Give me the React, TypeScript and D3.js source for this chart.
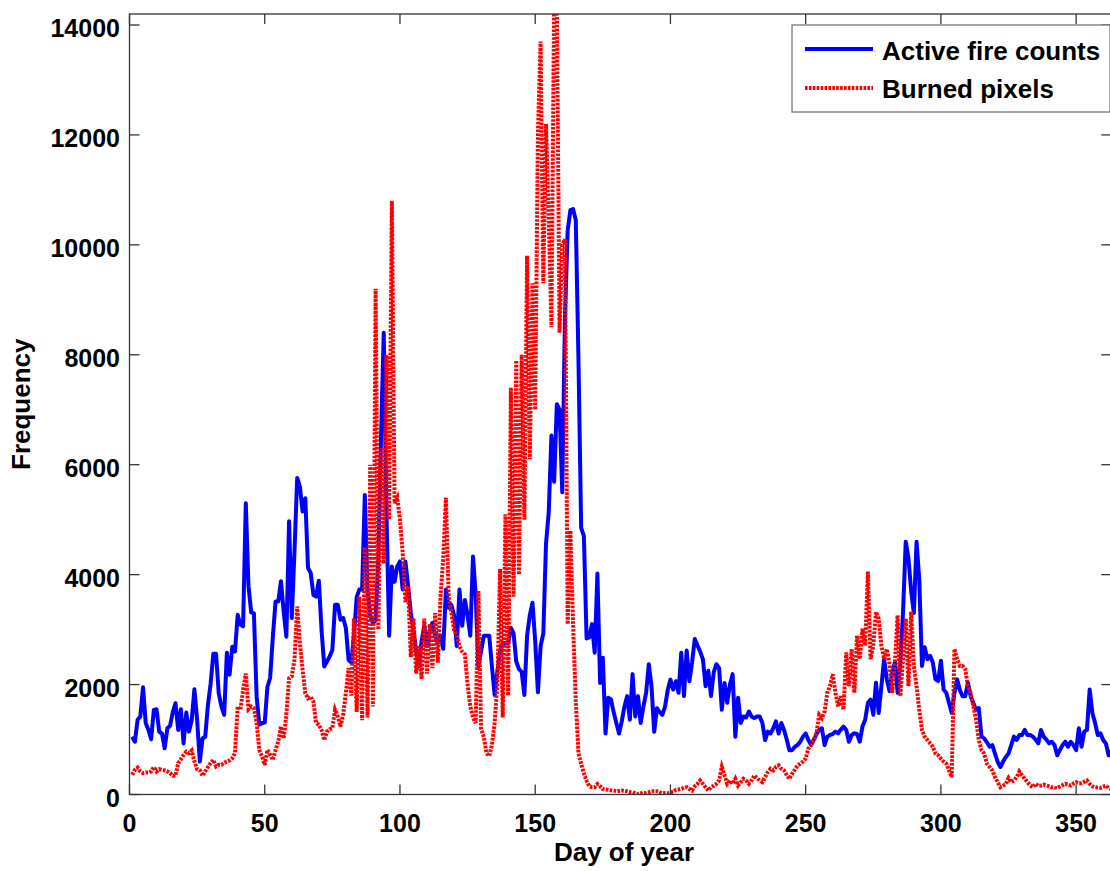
import React from 'react'
import * as d3 from 'd3'

// daily values, day 1 .. 363
const activeFire = [
    1050, 960, 1360, 1420, 1950, 1300, 1175, 1005, 1540, 1550,
    1140, 1110, 840, 1205, 1250, 1500, 1660, 1175, 1550, 930,
    1490, 1144, 1356, 1915, 1356, 600, 1020, 1050, 1630, 2020,
    2560, 2560, 1840, 1600, 1450, 2580, 2180, 2690, 2600, 3270,
    3090, 3060, 5300, 3790, 3310, 3300, 1780, 1270, 1300, 1310,
    1960, 2120, 2870, 3510, 3510, 3880, 3330, 2870, 4970, 3210,
    4420, 5760, 5600, 5150, 5390, 4120, 4030, 3630, 3600, 3890,
    3000, 2330, 2420, 2510, 2630, 3450, 3450, 3180, 3210, 3030,
    2450, 2400, 2900, 3590, 3730, 3730, 5450, 3730, 3260, 3120,
    3170, 4290, 6530, 8400, 5130, 2890, 4150, 3870, 4150, 4240,
    3730, 4240, 3800, 3310, 2980, 2610, 2330, 2790, 3070, 2700,
    2980, 3120, 2890, 2750, 2890, 2650, 3730, 3400, 3450, 3260,
    2700, 3730, 3070, 3540, 3260, 2890, 4330, 3630, 2330, 2610,
    2890, 2890, 2890, 2330, 1810, 2230, 2610, 2750, 2750, 2750,
    3030, 2930, 2420, 2280, 2230, 1810, 2890, 3260, 3490, 2790,
    1860, 2700, 2930, 4570, 5130, 6530, 5690, 7100, 7000, 5500,
    8670, 10260, 10630, 10650, 10450, 7900, 4850, 4700, 2840, 2860,
    3100, 2580, 4020, 2030, 2490, 1110, 1760, 1730, 1500, 1300,
    1110, 1330, 1600, 1790, 1360, 2190, 1420, 1790, 1300, 1600,
    1850, 2370, 1970, 1140, 1570, 1500, 1450, 1600, 1900, 2090,
    1910, 2060, 1850, 2580, 1790, 2620, 2060, 2400, 2830, 2710,
    2600, 2460, 1970, 2250, 1790, 2220, 2370, 2300, 1540, 2030,
    1670, 2000, 2190, 1050, 1760, 1300, 1420, 1400, 1510, 1420,
    1390, 1420, 1420, 1300, 990, 1144, 1110, 1200, 1330, 1110,
    1300, 1175, 1000, 807, 807, 870, 900, 960, 1050, 1110,
    991, 900, 991, 1100, 1175, 1205, 899, 1052, 1083, 1100,
    1144, 1113, 1180, 1236, 1175, 960, 1083, 1113, 1100, 960,
    1236, 1359, 1665, 1727, 1451, 2033, 1482, 1972, 2463, 2095,
    1880, 2218, 2402, 1849, 2402, 3322, 4600, 4300, 3700, 3300,
    4600, 3900, 2340, 2678, 2463, 2524, 2402, 2095, 2064, 2432,
    1911, 1849, 1665, 1482, 1849, 2095, 1900, 1788, 1788, 2033,
    1788, 1665, 1543, 1573, 1052, 1021, 950, 868, 899, 745,
    592, 500, 600, 684, 745, 899, 1052, 991, 1083, 1083,
    1175, 1083, 1083, 1052, 1000, 930, 1175, 1052, 1000, 930,
    960, 899, 715, 807, 900, 960, 868, 960, 900, 807,
    1205, 868, 1144, 1175, 1911, 1482, 1300, 1083, 1113, 991,
    930, 715, 800,
]

const burnedPixels = [
    360, 450, 490, 420, 390, 400, 400, 420, 500, 420,
    460, 450, 440, 420, 390, 340, 340, 570, 640, 720,
    780, 750, 800, 600, 460, 440, 340, 420, 500, 570,
    630, 510, 540, 540, 580, 600, 620, 660, 750, 1600,
    1540, 1900, 2200, 1550, 1600, 1570, 1300, 810, 690, 540,
    810, 720, 630, 810, 960, 1240, 1020, 1450, 2115, 2150,
    2450, 3420, 2750, 2270, 1840, 1750, 1780, 1690, 1300, 1270,
    1175, 990, 1144, 1187, 1205, 1540, 1420, 1235, 1450, 1850,
    2300, 1800, 3200, 1500, 3600, 1350, 4500, 1400, 6000, 1600,
    9200, 3000, 6300, 4200, 8000, 5000, 10800, 5300, 5400, 5000,
    4400, 3500, 3800, 2500, 3200, 2200, 2700, 2100, 3200, 2200,
    3100, 2300, 3300, 2400, 3600, 4300, 5400, 3600, 3300, 3000,
    2900, 2700, 2600, 2550, 2000, 1600, 1400, 1300, 3700, 1200,
    1050, 750, 700, 900, 1300, 2000, 4100, 1400, 5100, 1800,
    7400, 3600, 7900, 4000, 8000, 5000, 9800, 6100, 9300, 7000,
    12000, 13700, 9300, 12200, 10500, 8500, 14500, 14400, 8400, 10000,
    10100, 3100, 4800, 3100, 1700, 750, 560, 380, 250, 150,
    130, 130, 190, 150, 100, 90, 84, 75, 70, 60,
    65, 72, 65, 59, 45, 41, 20, 10, 22, 25,
    28, 40, 59, 60, 59, 40, 22, 25, 22, 41,
    50, 84, 90, 102, 120, 133, 100, 72, 150, 194,
    255, 194, 133, 72, 133, 160, 194, 255, 500, 347,
    194, 255, 194, 286, 163, 225, 286, 250, 194, 255,
    347, 300, 255, 225, 317, 409, 470, 440, 500, 531,
    470, 440, 350, 286, 378, 450, 531, 561, 600, 653,
    837, 899, 1000, 1113, 1451, 1390, 1512, 1849, 1972, 2187,
    1849, 1604, 1788, 1543, 2586, 1972, 2647, 1849, 2892, 2463,
    3015, 2708, 4058, 2463, 2708, 3322, 3199, 2708, 2463, 2647,
    2371, 1849, 2402, 3260, 1788, 2463, 3199, 1972, 3322, 2340,
    1972, 1543, 1175, 1050, 991, 930, 868, 745, 715, 653,
    600, 561, 439, 316, 2647, 2463, 2340, 2340, 2279, 1972,
    1849, 1604, 1359, 991, 807, 745, 561, 500, 439, 316,
    224, 132, 160, 193, 300, 224, 255, 316, 420, 347,
    285, 224, 163, 132, 193, 160, 163, 180, 163, 150,
    132, 125, 120, 144, 170, 193, 180, 163, 200, 224,
    206, 206, 230, 255, 193, 150, 132, 125, 120, 140,
    163, 120, 102,
]

const xTicks = [0, 50, 100, 150, 200, 250, 300, 350]
const yTicks = [0, 2000, 4000, 6000, 8000, 10000, 12000, 14000]
const seriesNames = ['Active fire counts', 'Burned pixels']

const W = 1110
const H = 871
const left = 129.5
const right = 1111.3
const top = 14
const bottom = 794.5
const font = "'Liberation Sans', Arial, Helvetica, sans-serif"
const axisColor = '#333'
const redDash = '2.6 1.3'

export default function App() {
    const x = d3.scaleLinear().domain([0, 363]).range([left, right])
    const y = d3.scaleLinear().domain([0, 14200]).range([bottom, top])
    const line = d3
        .line<number>()
        .x((d, i) => x(i + 1))
        .y((d) => y(d))

    return (
        <svg
            width={W}
            height={H}
            style={{ position: 'absolute', left: 0, top: 0, background: '#fff' }}
            fontFamily={font}
            fontWeight="bold"
        >
            <defs>
                <clipPath id="plot">
                    <rect x={left} y={top} width={right - left} height={bottom - top} />
                </clipPath>
            </defs>

            <g clipPath="url(#plot)">
                <path d={line(activeFire) || ''} fill="none" stroke="#0000ff" strokeWidth={4} strokeLinejoin="round" />
                <path d={line(burnedPixels) || ''} fill="none" stroke="#ff0000" strokeWidth={4} strokeDasharray={redDash} />
            </g>

            {/* axes box */}
            <rect x={left} y={top} width={right - left} height={bottom - top} fill="none" stroke={axisColor} strokeWidth={1.3} />

            {/* ticks, pointing inward on all four sides */}
            {xTicks.map((t) => (
                <g key={'x' + t}>
                    <line x1={x(t)} x2={x(t)} y1={bottom} y2={bottom - 10} stroke={axisColor} strokeWidth={1.3} />
                    <line x1={x(t)} x2={x(t)} y1={top} y2={top + 10} stroke={axisColor} strokeWidth={1.3} />
                    <text x={x(t)} y={832} textAnchor="middle" fontSize={25}>
                        {t}
                    </text>
                </g>
            ))}
            {yTicks.map((t) => (
                <g key={'y' + t}>
                    <line x1={left} x2={left + 10} y1={y(t)} y2={y(t)} stroke={axisColor} strokeWidth={1.3} />
                    <line x1={right} x2={right - 10} y1={y(t)} y2={y(t)} stroke={axisColor} strokeWidth={1.3} />
                    <text x={120} y={y(t) + 12.3} textAnchor="end" fontSize={25}>
                        {t}
                    </text>
                </g>
            ))}

            <text x={624} y={861} textAnchor="middle" fontSize={26}>
                Day of year
            </text>
            <text transform={`translate(30, ${(top + bottom) / 2}) rotate(-90)`} textAnchor="middle" fontSize={26}>
                Frequency
            </text>

            {/* legend */}
            <g>
                <rect x={792} y={25} width={318} height={87} fill="#fff" stroke="#777" strokeWidth={1.3} />
                <line x1={805} x2={873} y1={49} y2={49} stroke="#0000ff" strokeWidth={4} />
                <text x={882} y={60} fontSize={26}>
                    {seriesNames[0]}
                </text>
                <line x1={805} x2={873} y1={88} y2={88} stroke="#ff0000" strokeWidth={4} strokeDasharray={redDash} />
                <text x={882} y={98} fontSize={26}>
                    {seriesNames[1]}
                </text>
            </g>
        </svg>
    )
}
